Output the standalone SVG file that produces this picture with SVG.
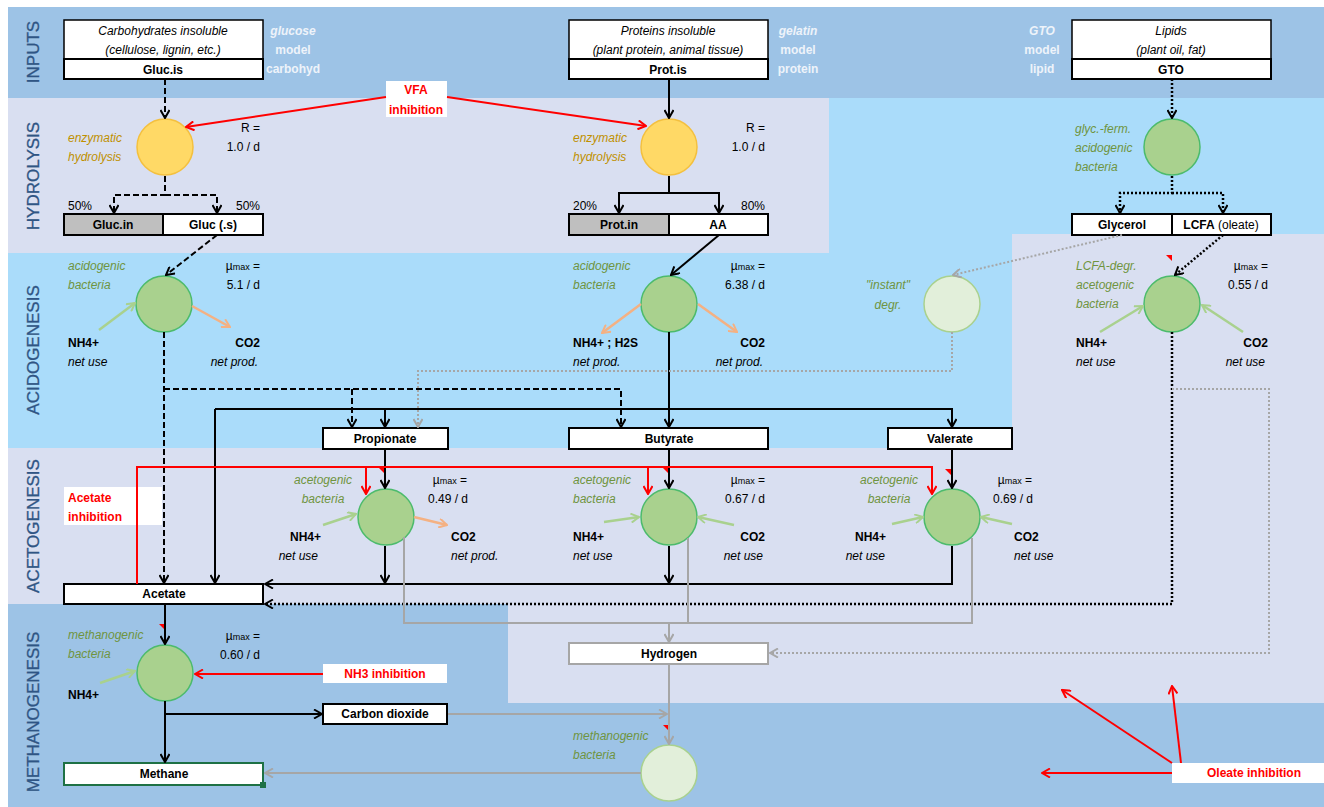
<svg xmlns="http://www.w3.org/2000/svg" width="1324" height="807" viewBox="0 0 1324 807">
<defs>
<style>
.t{font-family:"Liberation Sans",Arial,sans-serif;font-size:12px;fill:#000}
.b{font-weight:bold}
.i{font-style:italic}
.g{fill:#6F9440;font-style:italic}
.y{fill:#BF9000;font-style:italic}
.w{fill:#EEF3FA;font-weight:bold}
.r{fill:#FF0000;font-weight:bold}
.m{text-anchor:middle}
.e{text-anchor:end}
.band{font-family:"Liberation Sans",Arial,sans-serif;font-size:17px;fill:#2F5584;text-anchor:middle;stroke:#2F5584;stroke-width:0.3}
.box{fill:#fff;stroke:#000;stroke-width:2}
.boxg{fill:#BFBFBF;stroke:#000;stroke-width:2}
.thin{fill:#fff;stroke:#000;stroke-width:1.5}
.lbl{fill:#fff;stroke:none}
.cy{fill:#FFD966;stroke:#F4C03E;stroke-width:1.5}
.cg{fill:#A9D18E;stroke:#4CBB6C;stroke-width:1.5}
.cl{fill:#E2EFDA;stroke:#A9D18E;stroke-width:1.5}
.k{fill:none;stroke:#000;stroke-width:2}
.kd{fill:none;stroke:#000;stroke-width:2;stroke-dasharray:6 3}
.ko{fill:none;stroke:#000;stroke-width:2.5;stroke-dasharray:2 2}
.gy{fill:none;stroke:#A6A6A6;stroke-width:2}
.gyo{fill:none;stroke:#A6A6A6;stroke-width:2;stroke-dasharray:2 2}
.rd{fill:none;stroke:#FF0000;stroke-width:2}
.lg{fill:none;stroke:#A9D18E;stroke-width:2.5}
.or{fill:none;stroke:#F4B183;stroke-width:2.5}
.tri{fill:#FF0000}
</style>
<marker id="ak" viewBox="0 0 10 10" refX="9" refY="5" markerWidth="10" markerHeight="10" markerUnits="userSpaceOnUse" orient="auto"><path d="M1,0.5 L9,5 L1,9.5" fill="none" stroke="#000" stroke-width="2"/></marker>
<marker id="ag" viewBox="0 0 10 10" refX="9" refY="5" markerWidth="10" markerHeight="10" markerUnits="userSpaceOnUse" orient="auto"><path d="M1,0.5 L9,5 L1,9.5" fill="none" stroke="#A6A6A6" stroke-width="2"/></marker>
<marker id="ar" viewBox="0 0 10 10" refX="9" refY="5" markerWidth="10" markerHeight="10" markerUnits="userSpaceOnUse" orient="auto"><path d="M1,0.5 L9,5 L1,9.5" fill="none" stroke="#FF0000" stroke-width="2"/></marker>
<marker id="an" viewBox="0 0 10 10" refX="9" refY="5" markerWidth="10" markerHeight="10" markerUnits="userSpaceOnUse" orient="auto"><path d="M1,0.5 L9,5 L1,9.5" fill="none" stroke="#A9D18E" stroke-width="2"/></marker>
<marker id="ao" viewBox="0 0 10 10" refX="9" refY="5" markerWidth="10" markerHeight="10" markerUnits="userSpaceOnUse" orient="auto"><path d="M1,0.5 L9,5 L1,9.5" fill="none" stroke="#F4B183" stroke-width="2"/></marker>
</defs>

<g id="bands">
<rect x="0" y="0" width="1324" height="807" fill="#fff"/>
<rect x="8" y="7" width="1316" height="91" fill="#9DC3E6"/>
<rect x="8" y="98" width="821" height="155" fill="#D9DFF1"/>
<rect x="829" y="98" width="495" height="155" fill="#AADCFA"/>
<rect x="8" y="253" width="1316" height="195" fill="#AADCFA"/>
<rect x="8" y="448" width="1316" height="156" fill="#D9DFF1"/>
<rect x="1012" y="234" width="312" height="370" fill="#D9DFF1"/>
<rect x="8" y="604" width="1316" height="203" fill="#9DC3E6"/>
<rect x="508" y="604" width="816" height="99" fill="#D9DFF1"/>
<text class="band" transform="translate(39,52) rotate(-90)">INPUTS</text>
<text class="band" transform="translate(39,176) rotate(-90)">HYDROLYSIS</text>
<text class="band" transform="translate(39,350) rotate(-90)">ACIDOGENESIS</text>
<text class="band" transform="translate(39,526) rotate(-90)">ACETOGENESIS</text>
<text class="band" transform="translate(39,712) rotate(-90)">METHANOGENESIS</text>
</g>

<g id="in-carb">
<rect class="thin" x="64" y="20" width="199" height="39"/>
<rect class="box" x="64" y="59" width="199" height="20"/>
<text class="t i m" x="163" y="35">Carbohydrates insoluble</text>
<text class="t i m" x="163" y="54">(cellulose, lignin, etc.)</text>
<text class="t b m" x="163" y="74">Gluc.is</text>
<text class="t w i m" x="293" y="35">glucose</text>
<text class="t w m" x="293" y="54">model</text>
<text class="t w m" x="293" y="73">carbohyd</text>
</g>

<g id="in-prot">
<rect class="thin" x="569" y="20" width="199" height="39"/>
<rect class="box" x="569" y="59" width="199" height="20"/>
<text class="t i m" x="668" y="35">Proteins insoluble</text>
<text class="t i m" x="668" y="54">(plant protein, animal tissue)</text>
<text class="t b m" x="668" y="74">Prot.is</text>
<text class="t w i m" x="798" y="35">gelatin</text>
<text class="t w m" x="798" y="54">model</text>
<text class="t w m" x="798" y="73">protein</text>
</g>

<g id="in-lipid">
<rect class="thin" x="1072" y="20" width="199" height="39"/>
<rect class="box" x="1072" y="59" width="199" height="20"/>
<text class="t i m" x="1171" y="35">Lipids</text>
<text class="t i m" x="1171" y="54">(plant oil, fat)</text>
<text class="t b m" x="1171" y="74">GTO</text>
<text class="t w i m" x="1042" y="35">GTO</text>
<text class="t w m" x="1042" y="54">model</text>
<text class="t w m" x="1042" y="73">lipid</text>
</g>

<g id="vfa-inh">
<rect class="lbl" x="386" y="81" width="61" height="36"/>
<text class="t r m" x="416" y="94">VFA</text>
<text class="t r m" x="416" y="114">inhibition</text>
</g>

<g id="hyd-carb">
<circle class="cy" cx="165" cy="147" r="28"/>
<text class="t y" x="68" y="142">enzymatic</text>
<text class="t y" x="68" y="161">hydrolysis</text>
<text class="t e" x="260" y="132">R =</text>
<text class="t e" x="260" y="151">1.0 / d</text>
</g>

<g id="hyd-prot">
<circle class="cy" cx="669" cy="147" r="28"/>
<text class="t y" x="573" y="142">enzymatic</text>
<text class="t y" x="573" y="161">hydrolysis</text>
<text class="t e" x="765" y="132">R =</text>
<text class="t e" x="765" y="151">1.0 / d</text>
</g>

<g id="ferm-lipid">
<circle class="cg" cx="1172" cy="147" r="28"/>
<text class="t g" x="1075" y="133">glyc.-ferm.</text>
<text class="t g" x="1075" y="152">acidogenic</text>
<text class="t g" x="1075" y="171">bacteria</text>
</g>

<g id="gluc-split">
<rect class="boxg" x="64" y="214" width="99" height="21"/>
<rect class="box" x="163" y="214" width="100" height="21"/>
<text class="t b m" x="113" y="229">Gluc.in</text>
<text class="t b m" x="213" y="229">Gluc (.s)</text>
<text class="t" x="68" y="210">50%</text>
<text class="t e" x="260" y="210">50%</text>
</g>

<g id="prot-split">
<rect class="boxg" x="569" y="214" width="100" height="21"/>
<rect class="box" x="669" y="214" width="99" height="21"/>
<text class="t b m" x="619" y="229">Prot.in</text>
<text class="t b m" x="718" y="229">AA</text>
<text class="t" x="573" y="210">20%</text>
<text class="t e" x="765" y="210">80%</text>
</g>

<g id="lipid-split">
<rect class="box" x="1072" y="214" width="100" height="21"/>
<rect class="box" x="1172" y="214" width="99" height="21"/>
<text class="t b m" x="1122" y="229">Glycerol</text>
<text class="t m" x="1221" y="229"><tspan class="b">LCFA</tspan> (oleate)</text>
</g>

<g id="acido-carb">
<circle class="cg" cx="164" cy="304" r="28"/>
<text class="t g" x="68" y="270">acidogenic</text>
<text class="t g" x="68" y="289">bacteria</text>
<text class="t e" x="260" y="270">µ<tspan font-size="9">max</tspan> =</text>
<text class="t e" x="260" y="289">5.1 / d</text>
<text class="t b" x="68" y="347">NH4+</text>
<text class="t i" x="68" y="366">net use</text>
<text class="t b e" x="260" y="347">CO2</text>
<text class="t i e" x="258" y="366">net prod.</text>
</g>

<g id="acido-prot">
<circle class="cg" cx="669" cy="304" r="28"/>
<text class="t g" x="573" y="270">acidogenic</text>
<text class="t g" x="573" y="289">bacteria</text>
<text class="t e" x="765" y="270">µ<tspan font-size="9">max</tspan> =</text>
<text class="t e" x="765" y="289">6.38 / d</text>
<text class="t b" x="573" y="347">NH4+ ; H2S</text>
<text class="t i" x="573" y="366">net prod.</text>
<text class="t b e" x="765" y="347">CO2</text>
<text class="t i e" x="763" y="366">net prod.</text>
</g>

<g id="instant">
<circle class="cl" cx="952" cy="304" r="28"/>
<text class="t g m" x="888" y="289">"instant"</text>
<text class="t g m" x="888" y="309">degr.</text>
</g>

<g id="lcfa-aceto">
<circle class="cg" cx="1172" cy="304" r="28"/>
<polygon class="tri" points="1166,255 1172,255 1172,261"/>
<text class="t g" x="1076" y="270">LCFA-degr.</text>
<text class="t g" x="1076" y="289">acetogenic</text>
<text class="t g" x="1076" y="308">bacteria</text>
<text class="t e" x="1268" y="270">µ<tspan font-size="9">max</tspan> =</text>
<text class="t e" x="1268" y="289">0.55 / d</text>
<text class="t b" x="1076" y="347">NH4+</text>
<text class="t i" x="1076" y="366">net use</text>
<text class="t b e" x="1268" y="347">CO2</text>
<text class="t i e" x="1265" y="366">net use</text>
</g>

<g id="propionate">
<rect class="box" x="323" y="428" width="125" height="21"/>
<text class="t b m" x="385" y="443">Propionate</text>
</g>
<g id="butyrate">
<rect class="box" x="569" y="428" width="199" height="21"/>
<text class="t b m" x="669" y="443">Butyrate</text>
</g>
<g id="valerate">
<rect class="box" x="888" y="428" width="124" height="21"/>
<text class="t b m" x="950" y="443">Valerate</text>
</g>

<g id="acetate-inh">
<rect class="lbl" x="64" y="487" width="98" height="38"/>
<text class="t r" x="68" y="502">Acetate</text>
<text class="t r" x="68" y="521">inhibition</text>
</g>

<g id="aceto-prop">
<circle class="cg" cx="386" cy="517" r="28"/>
<polygon class="tri" points="379,468 385,468 385,474"/>
<text class="t g m" x="323" y="484">acetogenic</text>
<text class="t g m" x="323" y="503">bacteria</text>
<text class="t e" x="467" y="484">µ<tspan font-size="9">max</tspan> =</text>
<text class="t e" x="468" y="503">0.49 / d</text>
<text class="t b e" x="321" y="541">NH4+</text>
<text class="t i e" x="318" y="560">net use</text>
<text class="t b" x="451" y="541">CO2</text>
<text class="t i" x="451" y="560">net prod.</text>
</g>

<g id="aceto-but">
<circle class="cg" cx="669" cy="517" r="28"/>
<polygon class="tri" points="663,468 669,468 669,474"/>
<text class="t g" x="573" y="484">acetogenic</text>
<text class="t g" x="573" y="503">bacteria</text>
<text class="t e" x="765" y="484">µ<tspan font-size="9">max</tspan> =</text>
<text class="t e" x="765" y="503">0.67 / d</text>
<text class="t b" x="573" y="541">NH4+</text>
<text class="t i" x="573" y="560">net use</text>
<text class="t b e" x="765" y="541">CO2</text>
<text class="t i e" x="763" y="560">net use</text>
</g>

<g id="aceto-val">
<circle class="cg" cx="952" cy="517" r="28"/>
<polygon class="tri" points="945,469 951,469 951,475"/>
<text class="t g m" x="889" y="484">acetogenic</text>
<text class="t g m" x="889" y="503">bacteria</text>
<text class="t e" x="1032" y="484">µ<tspan font-size="9">max</tspan> =</text>
<text class="t e" x="1033" y="503">0.69 / d</text>
<text class="t b e" x="886" y="541">NH4+</text>
<text class="t i e" x="885" y="560">net use</text>
<text class="t b" x="1014" y="541">CO2</text>
<text class="t i" x="1014" y="560">net use</text>
</g>

<g id="acetate">
<rect class="box" x="64" y="584" width="199" height="20"/>
<text class="t b m" x="164" y="598">Acetate</text>
</g>

<g id="hydrogen">
<rect fill="#fff" stroke="#A6A6A6" stroke-width="2" x="569" y="643" width="199" height="21"/>
<text class="t b m" x="669" y="658">Hydrogen</text>
</g>

<g id="methano-ac">
<circle class="cg" cx="165" cy="673" r="28"/>
<polygon class="tri" points="159,624 165,624 165,630"/>
<text class="t g" x="68" y="639">methanogenic</text>
<text class="t g" x="68" y="658">bacteria</text>
<text class="t e" x="260" y="640">µ<tspan font-size="9">max</tspan> =</text>
<text class="t e" x="260" y="659">0.60 / d</text>
<text class="t b" x="68" y="699">NH4+</text>
</g>

<g id="nh3-inh">
<rect class="lbl" x="323" y="664" width="124" height="19"/>
<text class="t r m" x="385" y="678">NH3 inhibition</text>
</g>

<g id="co2">
<rect class="box" x="323" y="704" width="124" height="20"/>
<text class="t b m" x="385" y="718">Carbon dioxide</text>
</g>

<g id="methano-h2">
<circle class="cl" cx="669" cy="773" r="28"/>
<polygon class="tri" points="663,725 669,725 669,731"/>
<text class="t g" x="573" y="740">methanogenic</text>
<text class="t g" x="573" y="759">bacteria</text>
</g>

<g id="methane">
<rect fill="#fff" stroke="#1E7145" stroke-width="2" x="64" y="763" width="199" height="22"/>
<rect x="260" y="782" width="6" height="6" fill="#1E7145"/>
<text class="t b m" x="164" y="778">Methane</text>
</g>

<g id="oleate-inh">
<rect class="lbl" x="1172" y="763" width="152" height="20"/>
<text class="t r m" x="1254" y="777">Oleate inhibition</text>
</g>

<g id="connectors">
<path class="kd" d="M165,79 V118" marker-end="url(#ak)"/>
<path class="kd" d="M165,176 V195 H114 V213" marker-end="url(#ak)"/>
<path class="kd" d="M165,195 H217 V213" marker-end="url(#ak)"/>
<path class="kd" d="M217,235 L166,275" marker-end="url(#ak)"/>
<path class="kd" d="M164,332 V583" marker-end="url(#ak)"/>
<path class="kd" d="M164,389 H621 V427" marker-end="url(#ak)"/>
<path class="kd" d="M352,389 V427" marker-end="url(#ak)"/>
<path class="k" d="M669,79 V118" marker-end="url(#ak)"/>
<path class="k" d="M669,176 V193 H619 V213" marker-end="url(#ak)"/>
<path class="k" d="M669,193 H719 V213" marker-end="url(#ak)"/>
<path class="k" d="M719,235 L671,275" marker-end="url(#ak)"/>
<path class="k" d="M669,332 V427" marker-end="url(#ak)"/>
<path class="k" d="M215,409 V583" marker-end="url(#ak)"/>
<path class="k" d="M215,409 H952 V427" marker-end="url(#ak)"/>
<path class="k" d="M385,409 V427" marker-end="url(#ak)"/>
<path class="k" d="M385,449 V488" marker-end="url(#ak)"/>
<path class="k" d="M669,449 V488" marker-end="url(#ak)"/>
<path class="k" d="M952,449 V488" marker-end="url(#ak)"/>
<path class="k" d="M385,546 V583" marker-end="url(#ak)"/>
<path class="k" d="M669,546 V583" marker-end="url(#ak)"/>
<path class="k" d="M952,546 V584 H265" marker-end="url(#ak)"/>
<path class="k" d="M165,604 V644" marker-end="url(#ak)"/>
<path class="k" d="M165,701 V762" marker-end="url(#ak)"/>
<path class="k" d="M165,714 H322" marker-end="url(#ak)"/>
<path class="ko" d="M1172,79 V118" marker-end="url(#ak)"/>
<path class="ko" d="M1172,176 V193 H1120 V213" marker-end="url(#ak)"/>
<path class="ko" d="M1172,193 H1223 V213" marker-end="url(#ak)"/>
<path class="ko" d="M1223,235 L1175,275" marker-end="url(#ak)"/>
<path class="ko" d="M1172,332 V604 H265" marker-end="url(#ak)"/>
<path class="gyo" d="M1122,235 L953,275" marker-end="url(#ag)"/>
<path class="gyo" d="M952,332 V371 H418 V427" marker-end="url(#ag)"/>
<path class="gyo" d="M1172,389 H1269 V653 H770" marker-end="url(#ag)"/>
<path class="gy" d="M404,537 V623 H972 V538"/>
<path class="gy" d="M688,538 V623"/>
<path class="gy" d="M669,623 V642" marker-end="url(#ag)"/>
<path class="gy" d="M669,664 V744" marker-end="url(#ag)"/>
<path class="gy" d="M448,714 H667" marker-end="url(#ag)"/>
<path class="gy" d="M641,773 H265" marker-end="url(#ag)"/>
<path class="rd" d="M386,97 L186,127" marker-end="url(#ar)"/>
<path class="rd" d="M447,97 L646,126" marker-end="url(#ar)"/>
<path class="rd" d="M137,584 V467 H932 V494" marker-end="url(#ar)"/>
<path class="rd" d="M366,467 V494" marker-end="url(#ar)"/>
<path class="rd" d="M648,467 V494" marker-end="url(#ar)"/>
<path class="rd" d="M323,674 H195" marker-end="url(#ar)"/>
<path class="rd" d="M1172,773 H1042" marker-end="url(#ar)"/>
<path class="rd" d="M1172,763 L1062,690" marker-end="url(#ar)"/>
<path class="rd" d="M1181,763 L1172,686" marker-end="url(#ar)"/>
<path class="lg" d="M99,330 L135,303" marker-end="url(#an)"/>
<path class="or" d="M192,306 L230,327" marker-end="url(#ao)"/>
<path class="or" d="M641,304 L602,333" marker-end="url(#ao)"/>
<path class="or" d="M698,304 L737,332" marker-end="url(#ao)"/>
<path class="lg" d="M1100,332 L1143,306" marker-end="url(#an)"/>
<path class="lg" d="M1243,332 L1202,305" marker-end="url(#an)"/>
<path class="lg" d="M323,525 L356,514" marker-end="url(#an)"/>
<path class="or" d="M414,517 L447,525" marker-end="url(#ao)"/>
<path class="lg" d="M604,522 L639,517" marker-end="url(#an)"/>
<path class="lg" d="M734,525 L698,517" marker-end="url(#an)"/>
<path class="lg" d="M892,524 L923,517" marker-end="url(#an)"/>
<path class="lg" d="M1012,524 L981,517" marker-end="url(#an)"/>
<path class="lg" d="M100,683 L135,671" marker-end="url(#an)"/>
</g>
</svg>
